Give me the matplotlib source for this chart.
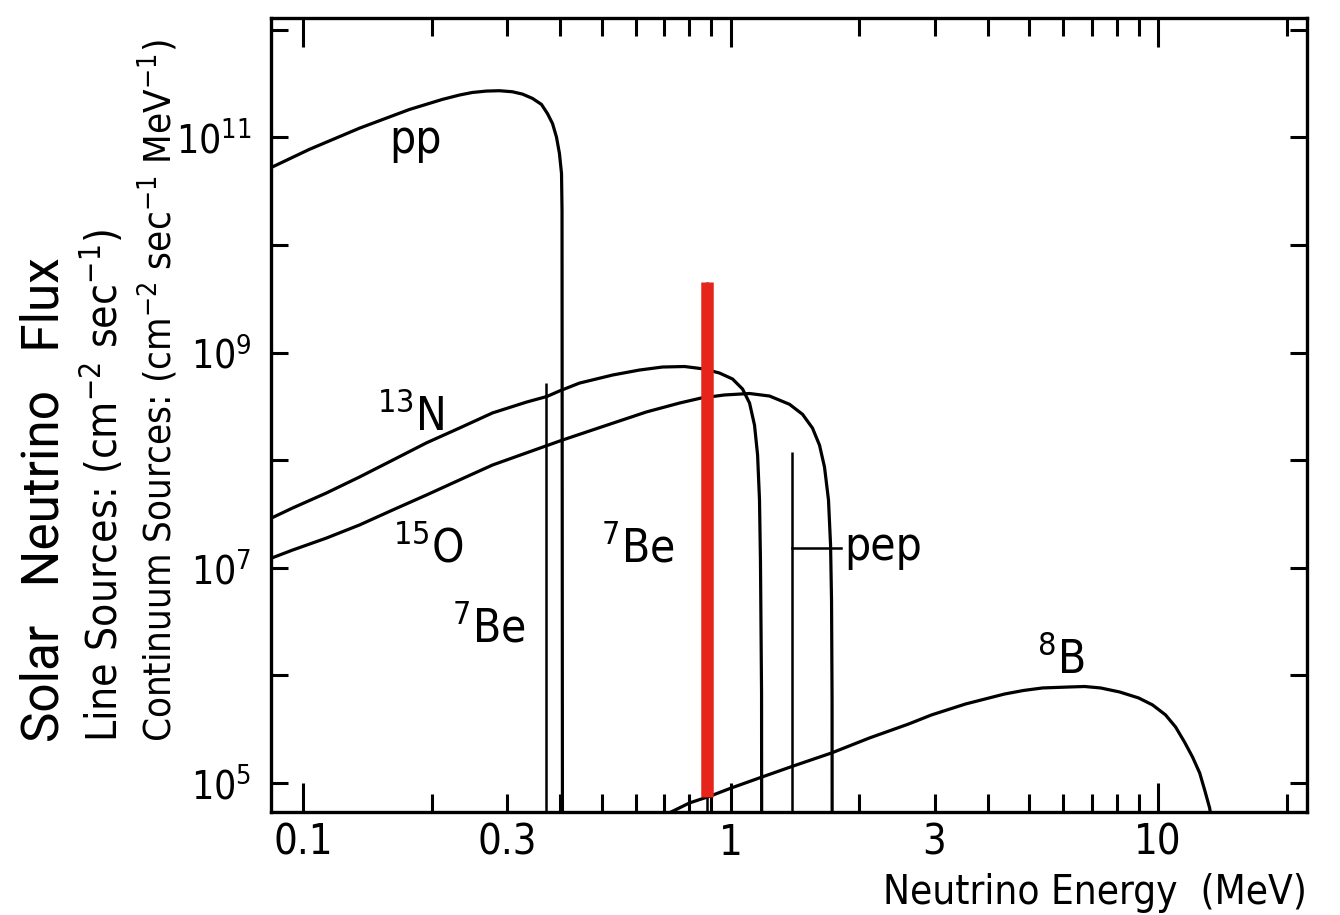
import os
import matplotlib
matplotlib.use('Agg')
from matplotlib import pyplot as plt
from matplotlib import font_manager as fm
from matplotlib.ticker import FixedLocator, FixedFormatter, NullLocator


def find_font(prefs, keys):
    entries = fm.fontManager.ttflist
    for p in prefs:
        for e in entries:
            if os.path.basename(e.fname).lower().startswith(p):
                return e
    for e in entries:
        b = os.path.basename(e.fname).lower()
        if any(k in b for k in keys) and not any(
                k in b for k in ['bold', 'italic', 'oblique', 'thin', 'black', 'medium', 'mono', 'serif', 'extra', 'semi']):
            return e
    return None


narrow = find_font(['liberationsansnarrow-regular', 'dejavusanscondensed.', 'robotocondensed-regular',
                    'notosans-condensed.', 'opensans-condensed', 'opensans_condensed-regular'],
                   ['narrow', 'condensed'])
light = find_font(['roboto-light.', 'lato-light.', 'opensans-light.', 'notosans-light.'], ['-light.'])

if narrow is not None:
    plt.rcParams['font.family'] = [narrow.name, 'DejaVu Sans']
    plt.rcParams['font.stretch'] = narrow.stretch if isinstance(narrow.stretch, str) else 'condensed'
else:
    plt.rcParams['font.family'] = ['DejaVu Sans']
light_family = [light.name, 'DejaVu Sans'] if light is not None else ['Lato', 'DejaVu Sans']

# continuum spectra (energy in MeV, flux per cm2 s MeV)
pp_E = [0.0844, 0.1035, 0.1356, 0.1774, 0.212, 0.2323, 0.249, 0.2687, 0.2882, 0.309, 0.3262,
        0.344, 0.3613, 0.3731, 0.3834, 0.3917, 0.398, 0.4025, 0.4036, 0.4046]
pp_F = [5.27e10, 7.75e10, 1.22e11, 1.82e11, 2.26e11, 2.48e11, 2.62e11, 2.70e11, 2.72e11, 2.66e11, 2.53e11,
        2.31e11, 2.03e11, 1.67e11, 1.35e11, 1.01e11, 7.12e10, 4.63e10, 2.11e10, 1e4]

n13_E = [0.0844, 0.0945, 0.1135, 0.1356, 0.162, 0.1945, 0.2323, 0.2775, 0.3333, 0.3719, 0.398,
         0.4433, 0.5297, 0.6124, 0.6933, 0.7806, 0.8693, 0.9425, 1.011, 1.067, 1.108, 1.138,
         1.157, 1.169, 1.175, 1.182, 1.183]
n13_F = [2.90e7, 3.59e7, 4.96e7, 6.98e7, 1.00e8, 1.45e8, 1.99e8, 2.75e8, 3.47e8, 3.91e8, 4.40e8,
         5.21e8, 6.19e8, 6.89e8, 7.35e8, 7.43e8, 7.04e8, 6.46e8, 5.69e8, 4.59e8, 3.40e8, 2.12e8,
         1.12e8, 4.27e7, 1.18e7, 6.86e5, 1e4]

o15_E = [0.0844, 0.0945, 0.1135, 0.1356, 0.162, 0.1945, 0.2323, 0.2775, 0.3333, 0.4046,
         0.507, 0.636, 0.760, 0.855, 0.968, 1.108, 1.234, 1.374, 1.474, 1.555, 1.615, 1.659,
         1.695, 1.714, 1.723, 1.728, 1.729]
o15_F = [1.23e7, 1.46e7, 1.89e7, 2.50e7, 3.44e7, 4.75e7, 6.55e7, 9.02e7, 1.17e8, 1.54e8,
         2.08e8, 2.81e8, 3.40e8, 3.79e8, 4.04e8, 4.17e8, 3.95e8, 3.31e8, 2.67e8, 1.99e8, 1.38e8, 8.64e7,
         4.27e7, 1.63e7, 5.02e6, 5.91e5, 1e4]

b8_E = [0.70, 0.802, 0.898, 1.005, 1.188, 1.404, 1.723, 2.114, 2.609, 2.953, 3.546,
        4.375, 4.847, 5.369, 6.209, 6.732, 7.336, 8.128, 9.003, 9.708, 10.41, 10.99,
        11.53, 12.04, 12.51, 12.85, 13.20, 13.35]
b8_F = [5.0e4, 6.52e4, 7.57e4, 8.99e4, 1.14e5, 1.44e5, 1.90e5, 2.62e5, 3.53e5, 4.29e5, 5.42e5,
        6.71e5, 7.24e5, 7.64e5, 7.80e5, 7.88e5, 7.64e5, 7.01e5, 6.17e5, 5.31e5, 4.29e5, 3.31e5,
        2.40e5, 1.74e5, 1.24e5, 8.61e4, 5.86e4, 4.5e4]

# line sources (7Be 0.38, pep) and the highlighted 7Be 0.86 line
line_E = [0.371, 1.389]
line_top = [5.21e8, 1.19e8]
be7_E = 0.879
be7_top = 4.53e9
be7_bottom = 7.4e4
pep_leader_E = [1.389, 1.818]
pep_leader_F = 1.53e7

labels = [r'pp', r'$\mathregular{^{13}N}$', r'$\mathregular{^{15}O}$', r'$\mathregular{^{7}Be}$',
          r'$\mathregular{^{7}Be}$', 'pep', r'$\mathregular{^{8}B}$']
label_E = [0.1593, 0.1494, 0.162, 0.2226, 0.499, 1.848, 5.196]
label_F = [7.16e10, 1.91e8, 1.11e7, 2.04e6, 1.11e7, 1.18e7, 1.05e6]

x_major = [0.1, 1, 10]
x_major_labels = ['0.1', '1', '10']
x_minor = [0.2, 0.3, 0.4, 0.5, 0.6, 0.7, 0.8, 0.9, 2, 3, 4, 5, 6, 7, 8, 9, 20]
x_minor_labels = ['', '0.3', '', '', '', '', '', '', '', '3', '', '', '', '', '', '', '']
y_ticks = [1e5, 1e6, 1e7, 1e8, 1e9, 1e10, 1e11, 1e12]
y_labels = [r'$\mathregular{10^{5}}$', '', r'$\mathregular{10^{7}}$', '', r'$\mathregular{10^{9}}$', '',
            r'$\mathregular{10^{11}}$', '']

fig = plt.figure(figsize=(13.4, 9.15), dpi=100)
ax = fig.add_axes([271 / 1340, 1 - 812 / 915, (1307 - 271) / 1340, (812 - 18) / 915])
ax.set_xscale('log')
ax.set_yscale('log')
ax.set_xlim(0.0842, 22.3)
ax.set_ylim(5.37e4, 1.29e12)

lw = 2.3
for E, F in [(pp_E, pp_F), (n13_E, n13_F), (o15_E, o15_F), (b8_E, b8_F)]:
    ax.plot(E, F, color='black', lw=lw, solid_joinstyle='round')
ax.vlines(line_E, 1e4, line_top, color='black', lw=1.8)
ax.vlines(be7_E, 1e4, be7_top, color='black', lw=1.8)
ax.vlines(be7_E, be7_bottom, be7_top, color='#e5241b', lw=9)
ax.plot(pep_leader_E, [pep_leader_F, pep_leader_F], color='black', lw=1.8)

for s, e, f in zip(labels, label_E, label_F):
    ax.text(e, f, s, fontsize=33, ha='left', va='baseline')

ax.xaxis.set_major_locator(FixedLocator(x_major))
ax.xaxis.set_major_formatter(FixedFormatter(x_major_labels))
ax.xaxis.set_minor_locator(FixedLocator(x_minor))
ax.xaxis.set_minor_formatter(FixedFormatter(x_minor_labels))
ax.yaxis.set_major_locator(FixedLocator(y_ticks))
ax.yaxis.set_major_formatter(FixedFormatter(y_labels))
ax.yaxis.set_minor_locator(NullLocator())

ax.tick_params(axis='x', which='both', direction='in', top=True, bottom=True,
               width=2.2, labelsize=30, pad=7)
ax.tick_params(axis='x', which='major', length=21)
ax.tick_params(axis='x', which='minor', length=13)
ax.tick_params(axis='y', which='major', direction='in', left=True, right=True,
               width=2.2, length=12, labelsize=28, pad=14)
for sp in ax.spines.values():
    sp.set_linewidth(2.4)

fig.text(1307 / 1340, 1 - 904 / 915, 'Neutrino Energy  (MeV)', fontsize=29,
         ha='right', va='baseline')
fig.text(45 / 1340, 1 - 742 / 915, 'Solar   Neutrino   Flux', family=light_family,
         fontweight='normal', fontstretch='normal', fontsize=37, rotation=90,
         ha='center', va='bottom')
fig.text(103 / 1340, 1 - 742 / 915,
         r'Line Sources: (cm$\mathregular{^{-2}}$ sec$\mathregular{^{-1}}$)',
         fontsize=30.5, rotation=90, ha='center', va='bottom')
fig.text(158 / 1340, 1 - 742 / 915,
         r'Continuum Sources: (cm$\mathregular{^{-2}}$ sec$\mathregular{^{-1}}$ MeV$\mathregular{^{-1}}$)',
         fontsize=27.5, rotation=90, ha='center', va='bottom')

fig.savefig('out.png', dpi=100)
